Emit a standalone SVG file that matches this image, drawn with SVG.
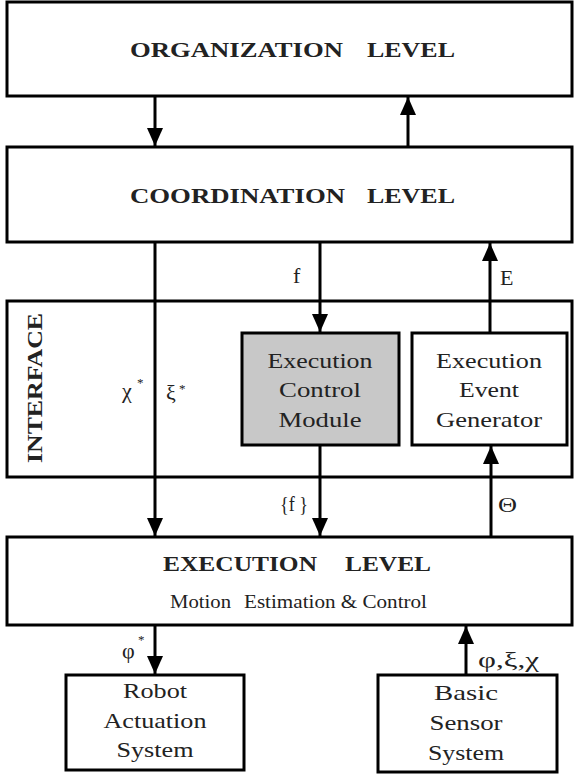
<svg xmlns="http://www.w3.org/2000/svg" width="575" height="774" viewBox="0 0 575 774">
<style>
.box{fill:#fff;stroke:#000;stroke-width:3}
.gray{fill:#c8c8c8}
.ln{stroke:#000;stroke-width:3;fill:none}
</style>
<defs>
<marker id="ah" markerUnits="userSpaceOnUse" viewBox="0 0 18 16" refX="18" refY="8" markerWidth="18" markerHeight="16" orient="auto">
<path d="M0,0 L18,8 L0,16 z" fill="#000"/>
</marker>
</defs>
<rect width="575" height="774" fill="#fff"/>

<g font-family="Liberation Serif, Times New Roman, serif" fill="#222" font-size="22">
<g id="organization">
<rect class="box" x="7" y="2" width="565" height="94"/>
<text font-weight="bold" y="57"><tspan x="130" textLength="213" lengthAdjust="spacingAndGlyphs">ORGANIZATION</tspan> <tspan x="367" textLength="88" lengthAdjust="spacingAndGlyphs">LEVEL</tspan></text>
</g>

<g id="coordination">
<rect class="box" x="7" y="147" width="565" height="95"/>
<text font-weight="bold" y="203"><tspan x="130" textLength="215" lengthAdjust="spacingAndGlyphs">COORDINATION</tspan> <tspan x="367" textLength="88" lengthAdjust="spacingAndGlyphs">LEVEL</tspan></text>
</g>

<g id="interface">
<rect class="box" x="7" y="301" width="565" height="176"/>
<text font-weight="bold" text-anchor="middle" transform="translate(42 388) rotate(-90)" x="0" y="0" textLength="150" lengthAdjust="spacingAndGlyphs">INTERFACE</text>
</g>

<g id="execution-control-module" text-anchor="middle">
<rect class="box gray" x="242" y="333" width="157" height="112"/>
<text x="320" y="368" textLength="105" lengthAdjust="spacingAndGlyphs">Execution</text>
<text x="320" y="397" textLength="82" lengthAdjust="spacingAndGlyphs">Control</text>
<text x="320" y="427" textLength="83" lengthAdjust="spacingAndGlyphs">Module</text>
</g>

<g id="execution-event-generator" text-anchor="middle">
<rect class="box" x="412" y="333" width="155" height="112"/>
<text x="489" y="368" textLength="106" lengthAdjust="spacingAndGlyphs">Execution</text>
<text x="489" y="397" textLength="60" lengthAdjust="spacingAndGlyphs">Event</text>
<text x="489" y="427" textLength="106" lengthAdjust="spacingAndGlyphs">Generator</text>
</g>

<g id="execution">
<rect class="box" x="7" y="537" width="565" height="88"/>
<text font-weight="bold" y="571"><tspan x="163" textLength="154" lengthAdjust="spacingAndGlyphs">EXECUTION</tspan> <tspan x="345" textLength="86" lengthAdjust="spacingAndGlyphs">LEVEL</tspan></text>
<text font-size="19" y="608"><tspan x="170" textLength="61" lengthAdjust="spacingAndGlyphs">Motion</tspan> <tspan x="244" textLength="183" lengthAdjust="spacingAndGlyphs">Estimation &amp; Control</tspan></text>
</g>

<g id="robot-actuation" text-anchor="middle">
<rect class="box" x="66" y="675" width="178" height="95"/>
<text x="155" y="698" textLength="64" lengthAdjust="spacingAndGlyphs">Robot</text>
<text x="155" y="728" textLength="103" lengthAdjust="spacingAndGlyphs">Actuation</text>
<text x="155" y="757" textLength="77" lengthAdjust="spacingAndGlyphs">System</text>
</g>

<g id="basic-sensor" text-anchor="middle">
<rect class="box" x="378" y="675" width="179" height="97"/>
<text x="466" y="700" textLength="64" lengthAdjust="spacingAndGlyphs">Basic</text>
<text x="466" y="730" textLength="73" lengthAdjust="spacingAndGlyphs">Sensor</text>
<text x="466" y="760" textLength="76" lengthAdjust="spacingAndGlyphs">System</text>
</g>

<g id="connectors">
<line class="ln" x1="155" y1="96" x2="155" y2="146" marker-end="url(#ah)"/>
<line class="ln" x1="408" y1="147" x2="408" y2="97" marker-end="url(#ah)"/>
<line class="ln" x1="155" y1="242" x2="155" y2="536" marker-end="url(#ah)"/>
<line class="ln" x1="320" y1="242" x2="320" y2="332" marker-end="url(#ah)"/>
<line class="ln" x1="490" y1="333" x2="490" y2="243" marker-end="url(#ah)"/>
<line class="ln" x1="320" y1="445" x2="320" y2="536" marker-end="url(#ah)"/>
<line class="ln" x1="491" y1="537" x2="491" y2="446" marker-end="url(#ah)"/>
<line class="ln" x1="155" y1="625" x2="155" y2="674" marker-end="url(#ah)"/>
<line class="ln" x1="466" y1="675" x2="466" y2="626" marker-end="url(#ah)"/>
<text x="293" y="283">f</text>
<text x="500" y="285">E</text>
<text x="122" y="398">χ</text>
<text font-size="13" x="137" y="387">*</text>
<text x="166" y="400">ξ</text>
<text font-size="13" x="179" y="393">*</text>
<text x="280" y="511" textLength="28" lengthAdjust="spacingAndGlyphs">{f }</text>
<text x="498" y="512" textLength="19" lengthAdjust="spacingAndGlyphs">Θ</text>
<text x="122" y="658">φ</text>
<text font-size="13" x="138" y="644">*</text>
<text x="478" y="667" textLength="61" lengthAdjust="spacingAndGlyphs">φ,ξ,χ</text>
</g>
</g>
</svg>
